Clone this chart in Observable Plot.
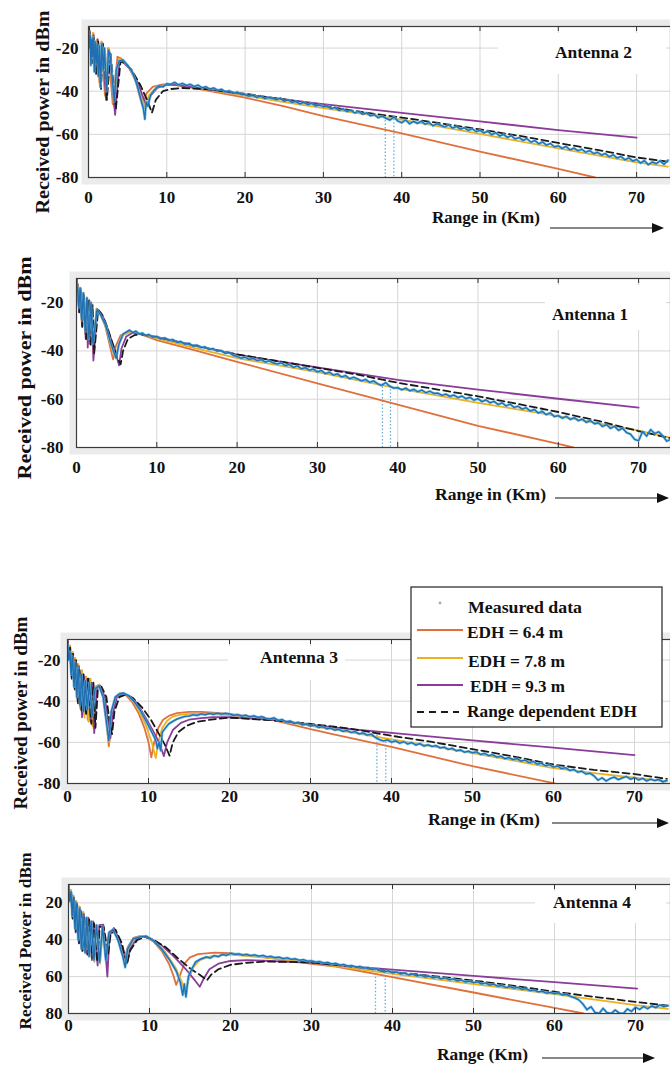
<!DOCTYPE html>
<html><head><meta charset="utf-8">
<script src="https://cdn.jsdelivr.net/npm/d3@7"></script>
<script src="https://cdn.jsdelivr.net/npm/@observablehq/plot@0.6"></script>
<style>
html,body{margin:0;padding:0;background:#fff;}
#page{position:relative;width:670px;height:1066px;overflow:hidden;background:#fff;}
#page svg{position:absolute;left:0;}
</style></head>
<body><div id="page"></div>
<script>
// ---------- shared tick values ----------
const xTicks = [0, 10, 20, 30, 40, 50, 60, 70];
const yTicks = [-20, -40, -60, -80];
const seriesNames = ["Measured data", "EDH = 6.4 m", "EDH = 7.8 m", "EDH = 9.3 m", "Range dependent EDH"];
const antennaNames = ["Antenna 2", "Antenna 1", "Antenna 3", "Antenna 4"];

// far-range sample positions of the measured record (km)
const farKm = [20,20.5,21,21.5,22,22.5,23,23.5,24,24.5,
25,25.5,26,26.5,27,27.5,28,28.5,29,29.5,
30,30.5,31,31.5,32,32.5,33,33.5,34,34.5,
35,35.5,36,36.5,37,37.5,38,38.5,39,39.5,
40,40.5,41,41.5,42,42.5,43,43.5,44,44.5,
45,45.5,46,46.5,47,47.5,48,48.5,49,49.5,
50,50.5,51,51.5,52,52.5,53,53.5,54,54.5,
55,55.5,56,56.5,57,57.5,58,58.5,59,59.5,
60,60.5,61,61.5,62,62.5,63,63.5,64,64.5,
65,65.5,66,66.5,67,67.5,68,68.5,69,69.5,
70,70.5,71,71.5,72,72.5,73,73.5,74];

// ---------- Antenna 2 (top panel) ----------
const a2_e64 = [[0,-10],[0.2,-13],[0.38,-24],[0.6,-13],[0.85,-29],[1.1,-16],[1.4,-36],[1.65,-17],[2.1,-42],[2.5,-20],[3.1,-46],[3.7,-24],[4.2,-25],[5,-28],[6,-35],[6.6,-43],[6.95,-47],[7.4,-41],[8.2,-38],[9.5,-36.8],[11,-37],[13,-38.2],[15,-39.6],[20,-43],[25,-47],[30,-51.5],[40,-59.5],[50,-68],[60,-76],[64.7,-80]];
const a2_e78 = [[0,-10],[0.2,-13],[0.4,-25],[0.62,-13],[0.88,-30],[1.13,-16],[1.45,-37],[1.7,-17],[2.2,-43],[2.6,-20],[3.25,-47],[3.9,-25],[4.4,-26],[5.2,-29],[6.2,-36],[6.9,-44],[7.25,-48],[7.7,-42],[8.6,-38.5],[10,-37],[11,-37],[13,-38],[15,-39.2],[20,-42],[25,-45],[30,-47.8],[40,-53.2],[50,-59.8],[60,-66.5],[70,-73],[74,-75]];
const a2_e93 = [[0,-10],[0.2,-14],[0.42,-26],[0.65,-14],[0.92,-31],[1.18,-16],[1.5,-38],[1.75,-18],[2.25,-44],[2.65,-21],[3.4,-51],[3.95,-26],[4.4,-26.5],[5.3,-29.5],[6.3,-36],[7.1,-44],[7.5,-47],[7.95,-42],[8.8,-38.5],[10,-37],[11,-37],[13,-38],[15,-39],[20,-41.5],[30,-46],[40,-50],[50,-54],[60,-58],[70,-61.5]];
const a2_rdep = [[0,-10],[0.22,-15],[0.45,-27],[0.7,-15],[0.98,-32],[1.25,-17],[1.6,-39],[1.85,-18],[2.35,-44],[2.8,-22],[3.5,-48],[4.1,-26],[4.6,-27],[5.5,-30],[6.6,-37],[7.6,-45],[8.1,-50],[8.6,-44],[9.5,-40],[10.5,-39],[12,-38.5],[15,-39],[20,-41.2],[25,-43.8],[30,-46.8],[35,-49.7],[40,-52.2],[45,-54.9],[50,-57.7],[55,-60.7],[60,-64],[65,-67.2],[70,-70.7],[74,-72.7]];
const a2_measNear = [[0,-12],[0.1,-20],[0.2,-14],[0.3,-28],[0.4,-16],[0.5,-24],[0.6,-15],[0.75,-31],[0.85,-17],[1,-27],[1.1,-18],[1.25,-33],[1.4,-19],[1.55,-38],[1.7,-18],[1.9,-30],[2.05,-20],[2.3,-40],[2.55,-21],[2.8,-24],[3.1,-37],[3.3,-45],[3.55,-30],[3.9,-26],[4.4,-25.5],[5,-28],[5.6,-31],[6.2,-37],[6.7,-44],[7,-48],[7.2,-53],[7.35,-45],[7.6,-47],[7.9,-42],[8.4,-39.5],[9,-37.5],[9.5,-38],[10,-36.5],[10.5,-36.8],[11,-35.9],[11.5,-37],[12,-36.4],[12.5,-37.3],[13,-36.8],[13.5,-37.8],[14,-37.2],[14.5,-38.4],[15,-37.9],[15.5,-39],[16,-38.5],[16.5,-39.6],[17,-39.1],[17.5,-40.3],[18,-39.8],[18.5,-41],[19,-40.4],[19.5,-41.5]];
const a2_measFar = [-41.6,-42.3,-41.8,-42.9,-42.2,-43.4,-42.8,-43.3,-43.9,-43.2,
-44.6,-44.0,-45.2,-44.7,-45.9,-45.1,-46.2,-45.6,-46.8,-46.3,
-47.2,-46.8,-48.1,-47.5,-48.9,-48.2,-49.4,-48.8,-50.1,-49.3,
-50.7,-50.0,-51.4,-50.8,-52.3,-51.5,-52.6,-53.4,-51.9,-53.8,
-54.6,-53.3,-55.1,-54.0,-54.9,-53.9,-55.3,-54.5,-56.0,-55.1,
-55.8,-56.6,-55.5,-57.1,-56.3,-57.6,-56.9,-58.2,-57.4,-58.7,
-58.1,-59.3,-58.6,-60.2,-59.2,-60.8,-60.0,-61.4,-60.6,-62.1,
-61.5,-62.8,-62.0,-63.6,-62.9,-64.4,-63.5,-65.0,-64.2,-65.8,
-65.3,-66.5,-65.6,-67.2,-66.4,-67.6,-66.9,-68.3,-67.5,-68.9,
-68.3,-69.6,-68.9,-70.4,-69.5,-71.0,-70.2,-71.8,-70.9,-72.4,
-71.6,-73.3,-72.2,-74.1,-72.8,-73.6,-72.3,-73.9,-72.0];
const a2_drops = [[37.9,-52],[39.0,-53]];

// ---------- Antenna 1 ----------
const a1_e64 = [[0,-10],[0.15,-13],[0.3,-22],[0.45,-14],[0.65,-28],[0.85,-16],[1.1,-33],[1.3,-18],[1.6,-37],[1.8,-20],[2.05,-40],[2.5,-22.5],[3.0,-25],[3.6,-30],[4.1,-37],[4.55,-43.5],[4.9,-38],[5.5,-33.5],[6.5,-32],[7.5,-32.5],[10,-35.5],[15,-40],[20,-44.5],[30,-53.4],[40,-62.2],[50,-71],[60,-78.5],[61.9,-80]];
const a1_e78 = [[0,-10],[0.15,-13],[0.32,-23],[0.48,-14],[0.68,-29],[0.88,-16],[1.15,-34],[1.35,-18],[1.65,-37],[1.85,-20],[2.1,-41],[2.55,-22.5],[3.1,-25],[3.7,-30],[4.3,-38],[4.85,-43],[5.2,-38],[5.8,-33.5],[6.8,-32],[8,-33],[10,-34.8],[15,-39],[20,-43],[30,-48.8],[40,-55.5],[50,-61.5],[60,-67],[70,-73],[74,-76]];
const a1_e93 = [[0,-10],[0.16,-14],[0.34,-24],[0.5,-14],[0.72,-30],[0.92,-17],[1.15,-35],[1.27,-18],[1.4,-38.6],[1.6,-19],[1.82,-36],[1.95,-21],[2.1,-44],[2.6,-22.7],[3.0,-24],[3.6,-28],[4.3,-35],[4.9,-41],[5.3,-46],[5.6,-39],[6.2,-34],[7,-32.5],[8,-33],[10,-34.2],[15,-38],[20,-41.5],[25,-44.2],[30,-46.8],[40,-52],[50,-56],[60,-59.8],[70,-63.5]];
const a1_rdep = [[0,-10],[0.16,-14],[0.34,-24],[0.5,-15],[0.72,-30],[0.93,-17],[1.2,-35],[1.45,-19],[1.75,-38],[2.0,-21],[2.2,-41],[2.7,-23],[3.2,-25],[3.8,-30],[4.5,-37],[5.1,-43],[5.5,-45.5],[5.8,-40],[6.4,-35],[7.2,-33.5],[8,-33],[9,-33.8],[10,-34.3],[15,-38],[20,-41.4],[25,-44.2],[30,-47],[35,-49.8],[40,-53.2],[45,-56],[50,-58.8],[55,-62],[60,-65.3],[65,-69],[70,-73.2],[74,-76.2]];
const a1_measNear = [[0,-11],[0.15,-15],[0.3,-22],[0.45,-14],[0.65,-27],[0.85,-16],[1.1,-32],[1.3,-18],[1.55,-35],[1.8,-20],[2.05,-37],[2.55,-23],[3.0,-25],[3.6,-29],[4.2,-36],[4.7,-41],[4.95,-43],[5.3,-37],[5.8,-33],[6.2,-32.2],[6.6,-31.4],[7,-32.4],[7.4,-31.8],[7.8,-33],[8.2,-32.6],[8.6,-33.6],[9,-33.2],[9.5,-34.3],[10,-34],[10.5,-35],[11,-34.6],[11.5,-35.6],[12,-35.3],[12.5,-36.4],[13,-36.1],[13.5,-37.2],[14,-36.8],[14.5,-38],[15,-37.6],[15.5,-38.6],[16,-38.3],[16.5,-39.4],[17,-39],[17.5,-40.1],[18,-39.8],[18.5,-41],[19,-40.6],[19.5,-41.8]];
const a1_measFar = [-42.3,-43.0,-42.6,-43.5,-43.1,-44.0,-43.6,-44.6,-44.1,-45.0,
-45.4,-44.9,-46.1,-45.6,-46.8,-46.2,-47.4,-46.9,-48.0,-47.5,
-48.7,-48.1,-49.4,-48.8,-50.0,-49.5,-50.8,-50.2,-51.5,-50.9,
-51.6,-52.4,-51.8,-53.0,-52.4,-53.6,-54.3,-53.1,-54.6,-55.4,
-55.2,-56.1,-55.4,-56.5,-55.9,-56.9,-56.2,-57.3,-56.7,-57.6,
-57.5,-58.4,-57.9,-58.8,-58.3,-59.3,-58.7,-59.8,-59.2,-60.4,
-59.8,-61.0,-60.3,-61.5,-60.9,-62.2,-61.5,-62.8,-62.0,-63.4,
-62.9,-64.1,-63.5,-64.9,-64.2,-65.7,-65.0,-66.4,-65.6,-67.2,
-66.8,-67.9,-67.1,-68.4,-67.6,-68.9,-68.2,-69.6,-68.8,-70.2,
-69.8,-71.3,-70.5,-72.1,-71.2,-72.9,-72.0,-73.8,-74.5,-76.6,
-77.2,-73.4,-75.3,-72.6,-74.2,-73.5,-75.1,-77.4,-76.6];
const a1_drops = [[38.1,-53.5],[39.1,-54.5]];

// ---------- Antenna 3 ----------
const a3_e64 = [[0,-10],[0.15,-17],[0.3,-13],[0.45,-26],[0.6,-16],[0.8,-32],[0.95,-19],[1.15,-38],[1.3,-22],[1.55,-43],[1.75,-25],[2.0,-46],[2.2,-28],[2.5,-49],[2.75,-29],[3.1,-52],[3.45,-33],[3.9,-32],[4.4,-38],[4.8,-50],[5.1,-62],[5.4,-47],[5.9,-38],[6.5,-36],[7.2,-37],[8,-40.5],[8.8,-46],[9.5,-53],[10,-60],[10.35,-67.3],[10.7,-60],[11.2,-53],[11.8,-49],[12.6,-47],[13.5,-45.8],[15,-45.2],[16.5,-45.2],[18,-45.6],[20,-46.2],[25,-48.8],[30,-53.6],[33,-56.2],[40,-62.2],[50,-71.6],[60,-79.8],[60.2,-80]];
const a3_e78 = [[0,-10],[0.15,-18],[0.3,-13],[0.47,-27],[0.62,-16],[0.83,-33],[0.98,-19],[1.2,-39],[1.35,-22],[1.6,-44],[1.8,-25],[2.1,-48],[2.3,-28],[2.6,-50],[2.85,-29],[3.2,-53],[3.5,-33],[3.95,-32],[4.5,-38],[4.9,-50],[5.2,-60],[5.5,-47],[6,-38],[6.7,-36],[7.4,-37],[8.2,-40.5],[9,-46],[9.8,-53],[10.4,-60],[10.9,-67.6],[11.2,-60],[11.7,-53],[12.3,-49.5],[13,-47.5],[14,-46.5],[15.5,-46],[17,-46.2],[20,-46.8],[25,-48.8],[30,-52],[35,-55.2],[40,-58.6],[45,-61.8],[50,-65.2],[55,-68.8],[60,-72.5],[65,-75],[70,-77.2],[74,-79]];
const a3_e93 = [[0,-10],[0.16,-18],[0.32,-14],[0.5,-28],[0.66,-17],[0.88,-34],[1.03,-20],[1.25,-40],[1.42,-23],[1.8,-47.8],[2.0,-27],[2.25,-44],[2.45,-29],[2.85,-50],[3.0,-31],[3.3,-55.5],[3.6,-34],[4.05,-32.5],[4.6,-38],[5.0,-49],[5.3,-58],[5.6,-46],[6.1,-38],[6.9,-36.4],[7.7,-37.5],[8.6,-41],[9.5,-47],[10.5,-54],[11.3,-60],[11.9,-66.7],[12.3,-60],[13,-54],[14,-50.5],[15,-49],[16.5,-48.2],[18,-47.8],[20,-47.8],[25,-49],[30,-51.4],[33.1,-52.9],[40,-55.4],[50,-59],[60,-62.6],[70,-66.2]];
const a3_rdep = [[0,-11],[0.17,-19],[0.34,-14],[0.52,-29],[0.7,-17],[0.92,-35],[1.08,-20],[1.3,-41],[1.48,-24],[1.75,-45],[1.95,-27],[2.3,-47],[2.55,-29],[2.95,-51],[3.2,-31],[3.45,-53],[3.75,-34],[4.2,-33],[4.8,-38],[5.2,-50],[5.5,-56],[5.8,-45],[6.4,-38],[7.2,-36.8],[8.1,-38.5],[9.2,-43],[10.3,-49],[11.3,-56],[12,-61],[12.6,-66.5],[13.0,-60],[13.7,-55],[14.7,-52],[16,-50],[18,-48.8],[20,-48],[25,-49.2],[30,-51],[35,-53.4],[40,-56.8],[45,-59.8],[50,-63.3],[55,-66.8],[60,-70.8],[65,-73.4],[70,-75.4],[74,-77.8]];
const a3_measNear = [[0,-12],[0.15,-20],[0.3,-16],[0.45,-27],[0.6,-18],[0.8,-33],[0.95,-21],[1.15,-38],[1.3,-24],[1.55,-42],[1.75,-27],[2.0,-45],[2.2,-30],[2.45,-44],[2.7,-31],[3.05,-47],[3.4,-34],[3.9,-32.5],[4.4,-38],[4.8,-50],[5.1,-59],[5.4,-45],[5.9,-38],[6.4,-36.5],[6.9,-36],[7.5,-37.2],[8.2,-40],[9,-44.5],[9.8,-50.5],[10.4,-55],[10.9,-59],[11.1,-63],[11.3,-60],[11.5,-64],[11.7,-55],[12.1,-53],[12.5,-51],[13,-49.8],[13.5,-48.7],[14,-48],[14.5,-47.4],[15,-47.2],[15.5,-46.6],[16,-46.9],[16.5,-46.2],[17,-46.6],[17.5,-45.9],[18,-46.4],[18.5,-45.8],[19,-46.3],[19.5,-45.9]];
const a3_measFar = [-46.2,-46.9,-46.5,-47.2,-46.8,-47.6,-47.1,-47.9,-47.5,-48.3,
-48.6,-48.1,-49.3,-48.9,-50.1,-49.6,-50.8,-50.3,-51.5,-51.0,
-52.1,-51.6,-52.8,-52.3,-53.4,-53.0,-54.1,-53.6,-54.7,-54.2,
-55.2,-54.8,-55.9,-55.4,-56.5,-56.0,-57.6,-58.7,-59.3,-58.8,
-59.9,-59.3,-60.4,-59.7,-60.8,-60.1,-61.3,-60.6,-61.8,-61.2,
-62.0,-61.6,-62.7,-62.3,-63.4,-62.9,-64.1,-63.6,-64.8,-64.3,
-65.1,-64.6,-65.9,-65.3,-66.5,-66.0,-67.2,-66.7,-67.9,-67.4,
-68.4,-67.9,-69.1,-68.6,-69.9,-69.3,-70.6,-70.1,-71.4,-70.8,
-72.0,-71.5,-72.8,-72.3,-73.7,-73.1,-74.5,-74.0,-75.4,-75.0,
-76.3,-78.4,-77.2,-78.8,-77.6,-76.9,-78.1,-77.3,-76.6,-77.9,
-77.1,-78.3,-77.5,-78.8,-77.9,-78.6,-78.0,-79.2,-78.5];
const a3_drops = [[38.2,-56.5],[39.3,-58]];

// ---------- Antenna 4 ----------
const a4_e64 = [[0,-10],[0.15,-17],[0.3,-13],[0.45,-26],[0.6,-16],[0.8,-33],[0.95,-19],[1.2,-39],[1.35,-22],[1.6,-44],[1.8,-25],[2.05,-46],[2.25,-28],[2.55,-48],[2.8,-30],[3.15,-51],[3.45,-32],[3.85,-52],[4.2,-33],[4.6,-50],[5.0,-36],[5.5,-34.5],[6.1,-40],[6.6,-47],[6.9,-50.5],[7.3,-44],[8,-39],[8.8,-38],[9.6,-38.5],[10.5,-41],[11.5,-46],[12.4,-53],[13.0,-60],[13.3,-64.5],[13.7,-60],[14.3,-53],[15,-49.5],[16,-47.8],[18,-47],[20,-47.3],[25,-50],[30,-53],[33,-54.5],[40,-60.3],[50,-68.6],[60,-77],[63.6,-80]];
const a4_e78 = [[0,-10],[0.15,-18],[0.3,-13],[0.47,-27],[0.62,-16],[0.83,-34],[0.98,-19],[1.23,-40],[1.38,-22],[1.65,-45],[1.85,-25],[2.1,-47],[2.3,-28],[2.6,-49],[2.85,-30],[3.2,-52],[3.5,-32],[3.9,-53],[4.25,-33],[4.7,-52],[5.1,-36],[5.6,-34.5],[6.2,-40],[6.8,-48],[7.05,-52],[7.4,-45],[8.1,-39.5],[9,-38.2],[9.8,-38.8],[10.8,-41.5],[12,-47],[13.2,-55],[14,-63],[14.4,-69],[14.8,-62],[15.4,-55],[16.2,-51],[17.5,-49],[20,-48],[25,-50],[30,-52.5],[35,-55.5],[40,-58.5],[45,-61.2],[50,-64],[55,-66.8],[60,-69.5],[65,-72.5],[70,-75.5],[74,-77.5]];
const a4_e93 = [[0,-10],[0.16,-18],[0.32,-14],[0.5,-28],[0.66,-17],[0.88,-36],[1.03,-20],[1.28,-42],[1.44,-23],[1.7,-46],[1.9,-26],[2.3,-48],[2.45,-28],[2.9,-51],[3.05,-30],[3.6,-54],[3.8,-32],[4.3,-31.8],[4.8,-60],[5.05,-38],[5.6,-33.6],[6.3,-40],[6.9,-49],[7.25,-52],[7.6,-45],[8.4,-39.5],[9.3,-38.3],[10.2,-39.5],[11.5,-43],[13,-49],[14.5,-56],[15.6,-62],[16.2,-65.5],[16.7,-61],[17.4,-56],[18.5,-53],[20,-51.5],[22,-51],[25,-51.5],[30,-52.5],[33,-53.8],[40,-56.2],[50,-59.6],[60,-63],[70.2,-66.5]];
const a4_rdep = [[0,-11],[0.17,-19],[0.34,-14],[0.52,-29],[0.7,-17],[0.92,-36],[1.08,-21],[1.33,-42],[1.5,-24],[1.75,-46],[1.95,-27],[2.35,-48],[2.55,-29],[2.95,-50],[3.15,-31],[3.55,-52],[3.85,-33],[4.35,-33],[4.9,-48],[5.2,-37],[5.8,-34.5],[6.6,-42],[7.2,-53.6],[7.6,-46],[8.5,-40],[9.5,-38.5],[10.5,-40],[12,-44],[13.5,-50],[15,-55.5],[16.2,-59],[17.1,-62],[17.6,-59],[18.5,-56],[20,-53.6],[22,-52.5],[24.5,-51.8],[27,-52],[30,-52.3],[35,-54.5],[40,-57.4],[45,-59.7],[50,-62.1],[55,-65],[60,-68.2],[65,-71],[70,-73.7],[74,-75.8]];
const a4_measNear = [[0,-11],[0.15,-19],[0.3,-14],[0.45,-27],[0.6,-17],[0.8,-34],[0.95,-20],[1.2,-40],[1.35,-23],[1.6,-45],[1.8,-26],[2.05,-47],[2.25,-28],[2.55,-49],[2.8,-30],[3.15,-51],[3.45,-32],[3.85,-52],[4.2,-33],[4.6,-51],[5.0,-36],[5.5,-34.5],[6.1,-40],[6.7,-49],[7.0,-55],[7.3,-45],[8,-39.5],[8.8,-38.4],[9.6,-38],[10.5,-40.5],[11.5,-45],[12.5,-51],[13.3,-57],[13.8,-63],[14.1,-70],[14.3,-64],[14.5,-71],[14.8,-60],[15.2,-56],[15.7,-52],[16.3,-50.5],[17,-49.3],[17.5,-49.9],[18,-48.6],[18.5,-49.2],[19,-47.9],[19.5,-48.5]];
const a4_measFar = [-47.3,-47.9,-47.6,-48.3,-47.9,-48.6,-48.2,-48.9,-48.5,-49.3,
-49.0,-49.7,-49.4,-50.2,-49.8,-50.6,-50.3,-51.1,-50.8,-51.6,
-51.4,-52.1,-51.8,-52.6,-52.3,-53.1,-52.8,-53.7,-53.4,-54.3,
-54.0,-54.9,-54.5,-55.4,-55.1,-56.0,-55.6,-56.9,-57.4,-56.8,
-58.0,-57.4,-58.5,-58.0,-59.1,-58.6,-59.6,-59.1,-60.2,-59.7,
-60.6,-60.1,-61.2,-60.7,-61.7,-61.2,-62.3,-61.8,-62.9,-62.4,
-63.2,-62.8,-63.9,-63.4,-64.6,-64.1,-65.2,-64.8,-65.9,-65.4,
-66.2,-65.8,-66.9,-66.5,-67.6,-67.2,-68.3,-67.9,-69.0,-68.6,
-69.2,-68.8,-70.0,-69.6,-70.8,-71.5,-72.6,-74.8,-77.9,-76.3,
-79.4,-80,-77.2,-79.6,-80,-78.1,-79.8,-80,-77.5,-78.9,
-76.6,-77.8,-76.2,-77.4,-75.9,-76.8,-75.4,-76.3,-75.7];
const a4_drops = [[37.9,-56.5],[39.1,-57.5]];

// ---------- styling ----------
const colors = {meas: "#1f6fb2", measHalo: "#5fb8e6", e64: "#e0703c", e78: "#edb120", e93: "#8a3c99", rdep: "#1a1a1a", drop: "#6aaed8"};
const serif = "'Liberation Serif','Times New Roman',serif";

function measured(near, far) {
  return near.concat(farKm.map((x, i) => [x, far[i]]));
}

const panels = [
  {top: 0,   frameTop: 26,  frameBottom: 177,  x0: 88, kmPx: 7.83, xPad: 13, yPad: 10, abs: false,
   e64: a2_e64, e78: a2_e78, e93: a2_e93, rdep: a2_rdep, meas: measured(a2_measNear, a2_measFar), drops: a2_drops},
  {top: 250, frameTop: 278, frameBottom: 447,  x0: 76, kmPx: 8.03, xPad: 13, yPad: 13, abs: false,
   e64: a1_e64, e78: a1_e78, e93: a1_e93, rdep: a1_rdep, meas: measured(a1_measNear, a1_measFar), drops: a1_drops},
  {top: 610, frameTop: 639, frameBottom: 783,  x0: 67, kmPx: 8.1, xPad: 6, yPad: 7, abs: false,
   e64: a3_e64, e78: a3_e78, e93: a3_e93, rdep: a3_rdep, meas: measured(a3_measNear, a3_measFar), drops: a3_drops},
  {top: 858, frameTop: 884, frameBottom: 1013, x0: 68, kmPx: 8.1, xPad: 5, yPad: 6, abs: true,
   e64: a4_e64, e78: a4_e78, e93: a4_e93, rdep: a4_rdep, meas: measured(a4_measNear, a4_measFar), drops: a4_drops}
];

const page = document.getElementById("page");
const X = d => d[0], Y = d => d[1];

for (const p of panels) {
  const width = 670;
  const height = p.frameBottom - p.top + 34;
  const marginTop = p.frameTop - p.top;
  const marginBottom = height - (p.frameBottom - p.top);
  const fh = p.frameBottom - p.frameTop;
  const xMax = (width - p.x0) / p.kmPx;
  const fmt = p.abs ? (d => `${Math.abs(d)}`) : (d => `${d}`);
  const line = (data, stroke, extra = {}) => Plot.line(data, {x: X, y: Y, stroke, strokeWidth: 1.8, clip: true, ...extra});
  const svg = Plot.plot({
    width, height, marginLeft: p.x0, marginRight: 0, marginTop, marginBottom,
    style: {fontFamily: serif, fontWeight: "bold", fontSize: "17px", color: "#111", background: "transparent", overflow: "visible"},
    x: {domain: [0, xMax]},
    y: {domain: [-80, -10]},
    marks: [
      Plot.frame({fill: "#ebebeb", stroke: "none", inset: -7}),
      Plot.frame({fill: "white", stroke: "none"}),
      Plot.gridX(xTicks.slice(1), {stroke: "#d6d6d6", strokeOpacity: 1}),
      Plot.gridY(yTicks.slice(0, 3), {stroke: "#d6d6d6", strokeOpacity: 1}),
      Plot.ruleX(p.drops, {x: X, y1: Y, y2: () => -80, stroke: colors.drop, strokeWidth: 1.3, strokeDasharray: "1.5,2", clip: true}),
      line(p.e64, colors.e64),
      line(p.e78, colors.e78),
      line(p.e93, colors.e93),
      line(p.rdep, colors.rdep, {strokeWidth: 1.8, strokeDasharray: "7,4"}),
      line(p.meas, colors.measHalo, {strokeWidth: 2.6, strokeOpacity: 0.8}),
      line(p.meas, colors.meas, {strokeWidth: 1.3}),
      Plot.frame({stroke: "#3a3a3a", strokeWidth: 1.2}),
      Plot.gridX(xTicks.slice(1), {stroke: "#333", strokeOpacity: 1, insetBottom: fh - 5}),
      Plot.gridX(xTicks.slice(1), {stroke: "#333", strokeOpacity: 1, insetTop: fh - 5}),
      Plot.axisX(xTicks, {anchor: "bottom", tickSize: 0, tickPadding: p.xPad, label: null, tickFormat: d => `${d}`}),
      Plot.axisY(yTicks, {anchor: "left", tickSize: 0, tickPadding: p.yPad, label: null, tickFormat: fmt})
    ]
  });
  svg.style.top = p.top + "px";
  page.appendChild(svg);
}

// ---------- overlay: titles, axis labels, arrows, legend ----------
const ov = d3.select(page).append("svg")
  .attr("width", 670).attr("height", 1066)
  .style("top", "0px")
  .style("font-family", serif).style("font-weight", "bold");

const labelBoxes = [[498,33,168,41],[545,285,121,45],[228,646,117,34],[535,891,131,32]];
ov.selectAll("rect.lb").data(labelBoxes).join("rect").attr("class","lb")
  .attr("x", d => d[0]).attr("y", d => d[1]).attr("width", d => d[2]).attr("height", d => d[3]).attr("fill", "white");

const antLabels = [[555,58,77],[552,320,76],[260,663,78],[553,908,78]];
antLabels.forEach((d, i) => {
  ov.append("text").attr("x", d[0]).attr("y", d[1]).attr("font-size", 17)
    .attr("textLength", d[2]).attr("lengthAdjust", "spacingAndGlyphs").attr("fill", "#111").text(antennaNames[i]);
});

const rangeLabels = [["Range in (Km)",432,223,108],["Range in (Km)",435,500,111],["Range in (Km)",428,825,112],["Range (Km)",437,1060,91]];
rangeLabels.forEach(d => {
  ov.append("text").attr("x", d[1]).attr("y", d[2]).attr("font-size", 17)
    .attr("textLength", d[3]).attr("lengthAdjust", "spacingAndGlyphs").attr("fill", "#111").text(d[0]);
});

const arrows = [[550,664,228],[555,669,498],[552,669,823],[542,655,1058]];
arrows.forEach(a => {
  ov.append("line").attr("x1", a[0]).attr("x2", a[1] - 10).attr("y1", a[2]).attr("y2", a[2]).attr("stroke", "#111").attr("stroke-width", 1.2);
  ov.append("path").attr("d", `M${a[1]},${a[2]} L${a[1]-12},${a[2]-5} L${a[1]-12},${a[2]+5} Z`).attr("fill", "#111");
});

const yLabels = [["Received power in dBm",44,112,203,18],["Received power in dBm",26,368,223,18],["Received power in dBm",22,713,193,18],["Received Power in dBm",27,941,177,16]];
yLabels.forEach(d => {
  ov.append("text").attr("transform", `translate(${d[1]},${d[2]}) rotate(-90)`)
    .attr("y", d[4] * 0.25).attr("text-anchor", "middle").attr("font-size", d[4])
    .attr("textLength", d[3]).attr("lengthAdjust", "spacingAndGlyphs").attr("fill", "#111").text(d[0]);
});

// legend
const lg = ov.append("g");
lg.append("rect").attr("x", 411).attr("y", 587).attr("width", 251).attr("height", 140)
  .attr("fill", "white").attr("stroke", "#222").attr("stroke-width", 1.2);
lg.append("circle").attr("cx", 440).attr("cy", 603).attr("r", 1.4).attr("fill", "#8fb3cc");
const legendRows = [
  {name: seriesNames[0], x: 468, y: 613, w: 114, stroke: null, ly: 0},
  {name: seriesNames[1], x: 467, y: 638, w: 96, stroke: colors.e64, ly: 630},
  {name: seriesNames[2], x: 468, y: 667, w: 97, stroke: colors.e78, ly: 658},
  {name: seriesNames[3], x: 470, y: 692, w: 95, stroke: colors.e93, ly: 685},
  {name: seriesNames[4], x: 467, y: 717, w: 170, stroke: colors.rdep, ly: 712, dash: "7,5"}
];
legendRows.forEach(r => {
  if (r.stroke) {
    lg.append("line").attr("x1", 417).attr("x2", r.dash ? 459 : 463).attr("y1", r.ly).attr("y2", r.ly)
      .attr("stroke", r.stroke).attr("stroke-width", 2).attr("stroke-dasharray", r.dash || null);
  }
  lg.append("text").attr("x", r.x).attr("y", r.y).attr("font-size", 17)
    .attr("textLength", r.w).attr("lengthAdjust", "spacingAndGlyphs").attr("fill", "#111").text(r.name);
});
</script>
</body></html>
